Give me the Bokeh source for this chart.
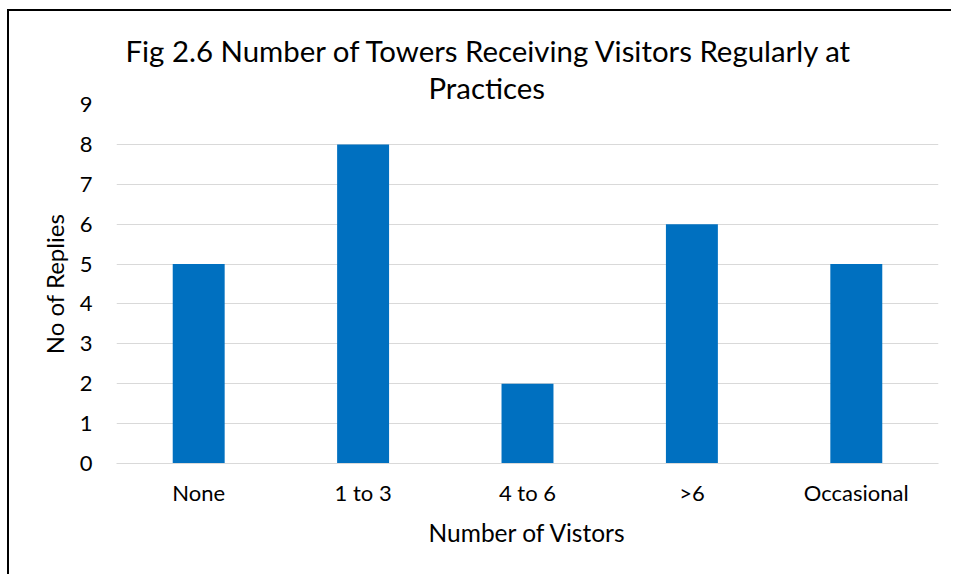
from bokeh.plotting import figure
from bokeh.models import FactorRange, Range1d, FixedTicker, Title
from bokeh.embed import file_html
from bokeh.resources import INLINE

categories = ["None", "1 to 3", "4 to 6", ">6", "Occasional"]
replies = [5, 8, 2, 6, 5]
y_ticks = [0, 1, 2, 3, 4, 5, 6, 7, 8, 9]
title_lines = ["Fig 2.6 Number of Towers Receiving Visitors Regularly at", "Practices"]
x_title = "Number of Vistors"
y_title = "No of Replies"

FONT = "Lato"
TXT = "#000000"
GRID = "#D9D9D9"
BAR = "#0070C0"

p = figure(
    x_range=FactorRange(*categories, range_padding=0),
    y_range=Range1d(0, 9),
    width=944, height=565,
    min_border_left=107, min_border_right=15,
    min_border_top=93, min_border_bottom=113,
    output_backend="svg", toolbar_location=None,
    background_fill_color="white", border_fill_color="white",
)
p.outline_line_color = None
# chart-box edge (left and top) drawn as an offset shadow so the box model is unchanged
p.styles = {"margin-left": "9px", "margin-top": "11px",
            "box-shadow": "-2px -2px 0px 0px #000000"}

p.vbar(x=categories, top=replies, width=0.316, color=BAR, line_color=None)

# axes
p.xaxis.axis_line_color = GRID
p.xaxis.axis_line_width = 1
p.xaxis.major_tick_line_color = None
p.xaxis.minor_tick_line_color = None
p.xaxis.major_label_text_font = FONT
p.xaxis.major_label_text_font_size = "22px"
p.xaxis.major_label_text_color = TXT
p.xaxis.major_label_standoff = 9
p.xaxis.axis_label = x_title
p.xaxis.axis_label_text_font = FONT
p.xaxis.axis_label_text_font_size = "24.5px"
p.xaxis.axis_label_text_font_style = "normal"
p.xaxis.axis_label_text_color = TXT
p.xaxis.axis_label_standoff = 9

p.yaxis.ticker = FixedTicker(ticks=y_ticks)
p.yaxis.axis_line_color = None
p.yaxis.major_tick_line_color = None
p.yaxis.minor_tick_line_color = None
p.yaxis.major_label_text_font = FONT
p.yaxis.major_label_text_font_size = "22px"
p.yaxis.major_label_text_color = TXT
p.yaxis.major_label_standoff = 18
p.yaxis.axis_label = y_title
p.yaxis.axis_label_text_font = FONT
p.yaxis.axis_label_text_font_size = "24px"
p.yaxis.axis_label_text_font_style = "normal"
p.yaxis.axis_label_text_color = TXT
p.yaxis.axis_label_standoff = 8

p.xgrid.grid_line_color = None
p.ygrid.grid_line_color = GRID
p.ygrid.grid_line_width = 1

# two-line title, each line centred on the chart box
p.add_layout(Title(text=title_lines[1], align="left", offset=312, standoff=0,
                   text_font=FONT, text_font_size="29.4px", text_font_style="normal",
                   text_color=TXT), "above")
p.add_layout(Title(text=title_lines[0], align="left", offset=9, standoff=0,
                   text_font=FONT, text_font_size="29.4px", text_font_style="normal",
                   text_color=TXT), "above")

open("out.html", "w").write(file_html(p, INLINE))
